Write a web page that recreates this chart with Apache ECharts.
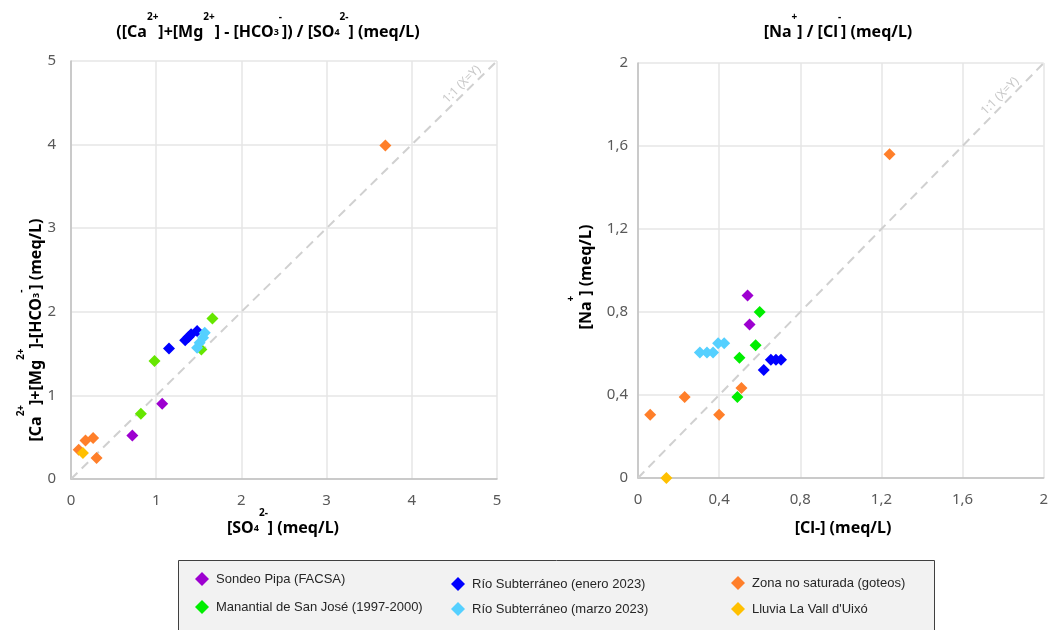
<!DOCTYPE html>
<html>
<head>
<meta charset="utf-8">
<script src="https://cdn.jsdelivr.net/npm/echarts@6/dist/echarts.min.js"></script>
<style>
html, body { margin: 0; padding: 0; background: #fff; }
#main { width: 1051px; height: 630px; }
</style>
</head>
<body>
<div id="main"></div>
<script>
// left chart: [SO4] vs [Ca]+[Mg]-[HCO3]
var sondeoSO4 = [0.72, 1.07];
var sondeoCaMg = [0.52, 0.90];
var manantialSO4 = [0.82, 0.98, 1.53, 1.66];
var manantialCaMg = [0.78, 1.41, 1.55, 1.92];
var rioEneSO4 = [1.15, 1.34, 1.38, 1.41, 1.48];
var rioEneCaMg = [1.56, 1.66, 1.70, 1.73, 1.77];
var rioMarSO4 = [1.48, 1.51, 1.55, 1.57];
var rioMarCaMg = [1.57, 1.63, 1.69, 1.75];
var zonaSO4 = [0.09, 0.17, 0.26, 0.30, 3.69];
var zonaCaMg = [0.35, 0.46, 0.49, 0.25, 3.99];
var lluviaSO4 = [0.14];
var lluviaCaMg = [0.31];

// right chart: [Cl] vs [Na]
var sondeoCl = [0.54, 0.55];
var sondeoNa = [0.88, 0.74];
var manantialCl = [0.60, 0.58, 0.50, 0.49];
var manantialNa = [0.80, 0.64, 0.58, 0.39];
var rioEneCl = [0.62, 0.655, 0.68, 0.705];
var rioEneNa = [0.52, 0.57, 0.57, 0.57];
var rioMarCl = [0.305, 0.34, 0.37, 0.395, 0.425];
var rioMarNa = [0.605, 0.605, 0.605, 0.65, 0.65];
var zonaCl = [0.06, 0.23, 0.40, 0.51, 1.24];
var zonaNa = [0.305, 0.39, 0.305, 0.434, 1.56];
var lluviaCl = [0.14];
var lluviaNa = [0];

var names = ['Sondeo Pipa (FACSA)', 'Manantial de San José (1997-2000)', 'Río Subterráneo (enero 2023)',
    'Río Subterráneo (marzo 2023)', 'Zona no saturada (goteos)', "Lluvia La Vall d'Uixó"];
var colorsLeft = ['#9d00d0', '#66e600', '#0000ff', '#55d0ff', '#ff7f2a', '#ffc000'];
var colorsRight = ['#9d00d0', '#00ee00', '#0000ff', '#55d0ff', '#ff7f2a', '#ffc000'];

function pairs(xs, ys) {
    var out = [];
    for (var i = 0; i < xs.length; i++) {
        out.push([xs[i], ys[i]]);
    }
    return out;
}

var leftData = [pairs(sondeoSO4, sondeoCaMg), pairs(manantialSO4, manantialCaMg), pairs(rioEneSO4, rioEneCaMg),
    pairs(rioMarSO4, rioMarCaMg), pairs(zonaSO4, zonaCaMg), pairs(lluviaSO4, lluviaCaMg)];
var rightData = [pairs(sondeoCl, sondeoNa), pairs(manantialCl, manantialNa), pairs(rioEneCl, rioEneNa),
    pairs(rioMarCl, rioMarNa), pairs(zonaCl, zonaNa), pairs(lluviaCl, lluviaNa)];

function fmtComma(v) {
    return String(Math.round(v * 10) / 10).replace('.', ',');
}

var tickFont = 'Noto Sans';
var boldFont = 'Noto Sans';

var axisCommon = {
    axisLine: { show: true, lineStyle: { color: '#bfbfbf', width: 1.5 } },
    axisTick: { show: false },
    splitLine: { show: true, lineStyle: { color: '#e6e6e6', width: 1.5 } },
    axisLabel: { color: '#595959', fontSize: 15, fontFamily: tickFont }
};

function axis(gridIndex, max, interval, margin, fmt) {
    return Object.assign({}, axisCommon, {
        type: 'value',
        gridIndex: gridIndex,
        min: 0,
        max: max,
        interval: interval,
        axisLabel: Object.assign({}, axisCommon.axisLabel, { margin: margin, formatter: fmt })
    });
}

var series = [];
for (var i = 0; i < names.length; i++) {
    series.push({
        name: names[i], type: 'scatter', xAxisIndex: 1, yAxisIndex: 1,
        symbol: 'diamond', symbolSize: 12, itemStyle: { color: colorsRight[i], opacity: 1 },
        data: rightData[i], z: 3 + i
    });
    series.push({
        name: names[i], type: 'scatter', xAxisIndex: 0, yAxisIndex: 0,
        symbol: 'diamond', symbolSize: 12, itemStyle: { color: colorsLeft[i], opacity: 1 },
        data: leftData[i], z: 3 + i
    });
}

// 1:1 lines
function diag(idx, max, labelAt) {
    return {
        type: 'line', xAxisIndex: idx, yAxisIndex: idx, silent: true, z: 2,
        symbol: 'circle', symbolSize: 1, showSymbol: true,
        itemStyle: { color: 'rgba(0,0,0,0)' },
        lineStyle: { color: '#d0d0d0', width: 2, type: [9, 6] },
        data: [[0, 0], {
            value: [labelAt, labelAt],
            label: {
                show: true, formatter: '1:1 (X=Y)', position: 'inside', rotate: 45,
                offset: [-8, -8], color: '#c8c8c8', fontSize: 12, fontFamily: tickFont
            }
        }, [max, max]]
    };
}
series.push(diag(0, 5, 4.72));
series.push(diag(1, 2, 1.84));

var titleRich = {
    b: { fontSize: 16, fontWeight: 'bold', fontFamily: boldFont, color: '#000', lineHeight: 28, verticalAlign: 'bottom' },
    sup: { fontSize: 10, fontWeight: 'bold', fontFamily: boldFont, color: '#000', verticalAlign: 'top' },
    sub: { fontSize: 9, fontWeight: 'bold', fontFamily: boldFont, color: '#000', verticalAlign: 'bottom', padding: [0, 0, 3, 0] }
};

function rt(x, y, text, rot) {
    return {
        type: 'text', x: x, y: y, rotation: rot || 0, z: 10,
        style: { text: text, align: 'center', verticalAlign: 'middle', rich: titleRich }
    };
}

function legend(left, top, gap, data) {
    return {
        orient: 'vertical', left: left, top: top, itemGap: gap,
        itemWidth: 14, itemHeight: 14, icon: 'diamond',
        data: data,
        textStyle: { fontSize: 13, color: '#262626', fontFamily: 'Liberation Sans', padding: [0, 0, 0, 2] }
    };
}

var option = {
    backgroundColor: '#fff',
    animation: false,
    grid: [
        { left: 71, top: 61, width: 426, height: 418 },
        { left: 638, top: 63, width: 408, height: 415 }
    ],
    xAxis: [axis(0, 5, 1, 14, function (v) { return String(v); }), axis(1, 2, 0.4, 14, fmtComma)],
    yAxis: [axis(0, 5, 1, 15, function (v) { return String(v); }), axis(1, 2, 0.4, 10, fmtComma)],
    legend: [
        legend(190, 567, 14, [names[0], names[1]]),
        legend(446, 572, 11, [names[2], names[3]]),
        legend(726, 571, 12, [names[4], names[5]])
    ],
    graphic: [
        { type: 'rect', shape: { x: 178.5, y: 560.5, width: 756, height: 76 }, z: -1,
          style: { fill: '#f2f2f2', stroke: '#404040', lineWidth: 1 } },
        rt(268, 26, '{b|([Ca}{sup|2+}{b|]+[Mg}{sup|2+}{b|] - [HCO}{sub|3}{sup|-}{b|]) / [SO}{sub|4}{sup|2-}{b|] (meq/L)}'),
        rt(838, 26, '{b|[Na}{sup|+}{b|] / [Cl}{sup|-}{b|] (meq/L)}'),
        rt(283, 522, '{b|[SO}{sub|4}{sup|2-}{b|] (meq/L)}'),
        rt(843, 522, '{b|[Cl-] (meq/L)}'),
        rt(30, 330, '{b|[Ca}{sup|2+}{b|]+[Mg}{sup|2+}{b|]-[HCO}{sub|3}{sup|-}{b|] (meq/L)}', Math.PI / 2),
        rt(580, 277, '{b|[Na}{sup|+}{b|] (meq/L)}', Math.PI / 2)
    ],
    series: series
};

var myChart = echarts.init(document.getElementById('main'));
myChart.setOption(option, true);
window.onresize = myChart.resize;
</script>
</body>
</html>
